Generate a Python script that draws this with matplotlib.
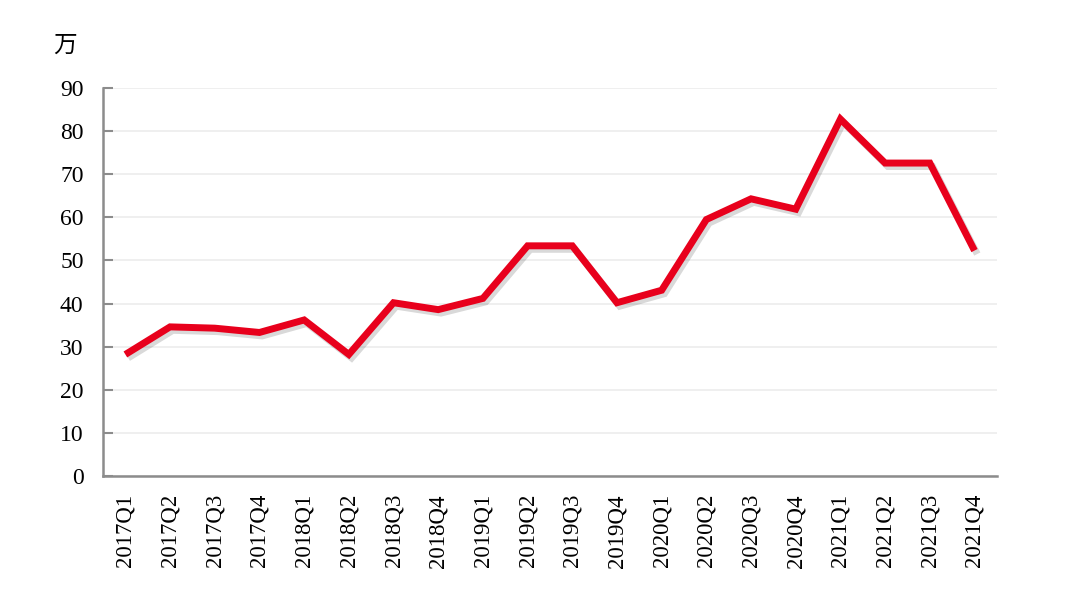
import matplotlib
matplotlib.use("Agg")
import matplotlib.pyplot as plt
import matplotlib.patheffects as pe

quarters = ["2017Q1", "2017Q2", "2017Q3", "2017Q4",
            "2018Q1", "2018Q2", "2018Q3", "2018Q4",
            "2019Q1", "2019Q2", "2019Q3", "2019Q4",
            "2020Q1", "2020Q2", "2020Q3", "2020Q4",
            "2021Q1", "2021Q2", "2021Q3", "2021Q4"]
values = [28.2, 34.6, 34.3, 33.3,
          36.2, 28.2, 40.2, 38.6,
          41.2, 53.4, 53.4, 40.2,
          43.1, 59.5, 64.3, 61.9,
          82.8, 72.6, 72.6, 52.3]
yticks = list(range(0, 91, 10))

fig = plt.figure(figsize=(10.8, 5.99), dpi=100)
ax = fig.add_axes([0.0954, 0.2053, 0.8276, 0.6477])

x = list(range(len(quarters)))
ax.plot(x, values, color="#e8001c", lw=5, solid_joinstyle="miter",
        solid_capstyle="butt",
        path_effects=[pe.SimpleLineShadow(offset=(2, -2.5), shadow_color="#000000", alpha=0.15),
                      pe.Normal()], zorder=3)

ax.set_xlim(-0.5, len(quarters) - 0.5)
ax.set_ylim(0, 90)
ax.set_yticks(yticks)
ax.set_xticks(x)
ax.set_xticklabels(quarters, rotation=90, fontsize=16.5, family="Liberation Serif")
for lab in ax.get_yticklabels():
    lab.set_family("Liberation Serif")
    lab.set_fontsize(17)

ax.grid(axis="y", color="#ececec", lw=1.2, zorder=0)
ax.tick_params(axis="y", direction="in", length=7, width=1.5, color="#8c8c8c", pad=14)
ax.tick_params(axis="x", length=0, pad=13)
for s in ["top", "right"]:
    ax.spines[s].set_visible(False)
for s in ["left", "bottom"]:
    ax.spines[s].set_color("#8c8c8c")
    ax.spines[s].set_linewidth(1.8)

fig.text(0.049, 0.905, "万", fontsize=17, family=["Noto Sans CJK SC", "DejaVu Sans"],
         va="bottom")

fig.savefig("out.png", dpi=100)
